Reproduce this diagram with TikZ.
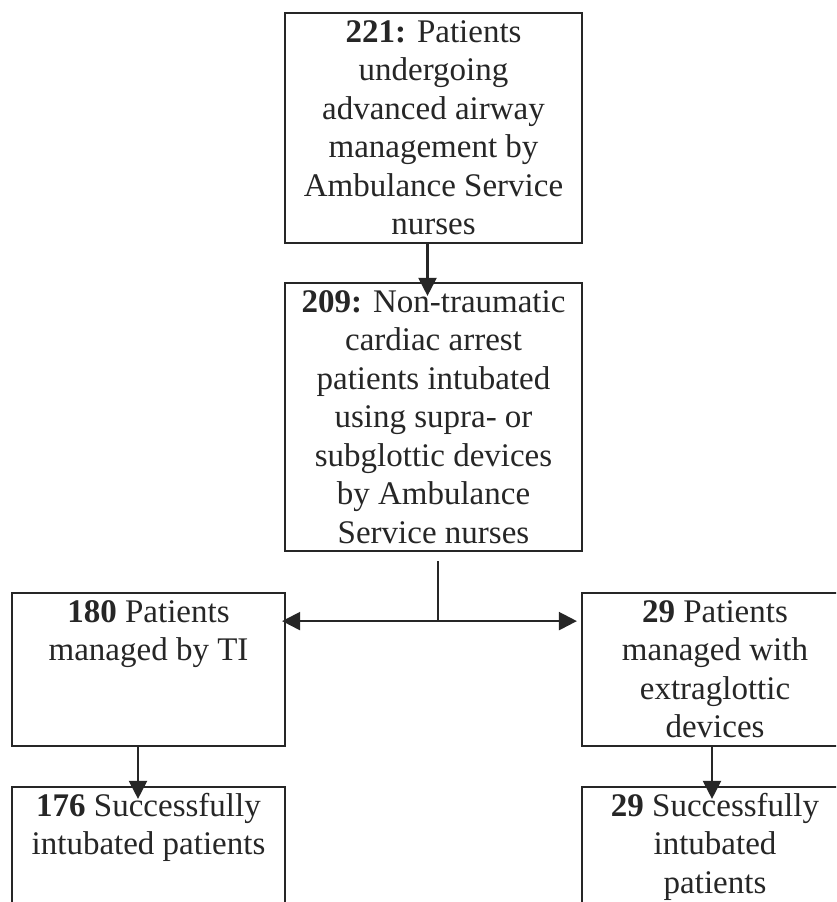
\documentclass[tikz,border=0pt]{standalone}
\usepackage{fontspec}
\setmainfont{Liberation Serif}
\usetikzlibrary{arrows.meta,calc}
\definecolor{ink}{HTML}{262626}
\newcommand{\boxtext}[3]{\begin{minipage}[c][#2pt][t]{#1pt}\centering\fontsize{33}{38.5}\selectfont\rule{0pt}{29pt}#3\end{minipage}}
\begin{document}
\begin{tikzpicture}[x=1pt,y=-1pt,
  box/.style={draw=ink,line width=2.2pt,inner sep=0pt,text=ink},
  ln/.style={draw=ink,line width=2.2pt},
  arr/.style={draw=ink,line width=2.2pt,-{Triangle[length=18pt,width=18pt]}}]
\useasboundingbox (0,0) rectangle (836,902);
\clip (0,0) rectangle (836,902);
\fill[white] (0,0) rectangle (836,902);
\node[box] (b1) at (433.5,128) {\boxtext{297}{230}{\textbf{221:} Patients\\ undergoing\\ advanced airway\\ management by\\ Ambulance Service\\ nurses}};
\node[box] (b2) at (433.5,417) {\boxtext{297}{268}{\textbf{209:} Non-traumatic\\ cardiac arrest\\ patients intubated\\ using supra- or\\ subglottic devices\\ by Ambulance\\ Service nurses}};
\node[box] (l1) at (148.5,669.5) {\boxtext{273}{153}{\textbf{180} Patients\\ managed by TI}};
\node[box] (r1) at (715,669.5) {\boxtext{266}{153}{\textbf{29} Patients\\ managed with\\ extraglottic\\ devices}};
\node[box] (l2) at (148.5,867) {\boxtext{273}{160}{\textbf{176} Successfully\\ intubated patients}};
\node[box] (r2) at (715,867) {\boxtext{266}{160}{\textbf{29} Successfully\\ intubated\\ patients}};
\draw[arr,shorten >=-14pt] ($(b1.south)+(-6,0)$) -- ($(b2.north)+(-6,0)$);
\coordinate (j) at ($(b2.south)+(4.5,69)$);
\coordinate (s) at ($(b2.south)+(4.5,9)$);
\draw[ln] (s) -- (j);
\draw[arr,shorten >=-4pt] (j) -- (j -| l1.east);
\draw[arr,shorten >=4pt] (j) -- (j -| r1.west);
\draw[arr,shorten >=-13pt] ($(l1.south)+(-10.5,0)$) -- ($(l2.north)+(-10.5,0)$);
\draw[arr,shorten >=-13pt] ($(r1.south)+(-3,0)$) -- ($(r2.north)+(-3,0)$);
\end{tikzpicture}
\end{document}
